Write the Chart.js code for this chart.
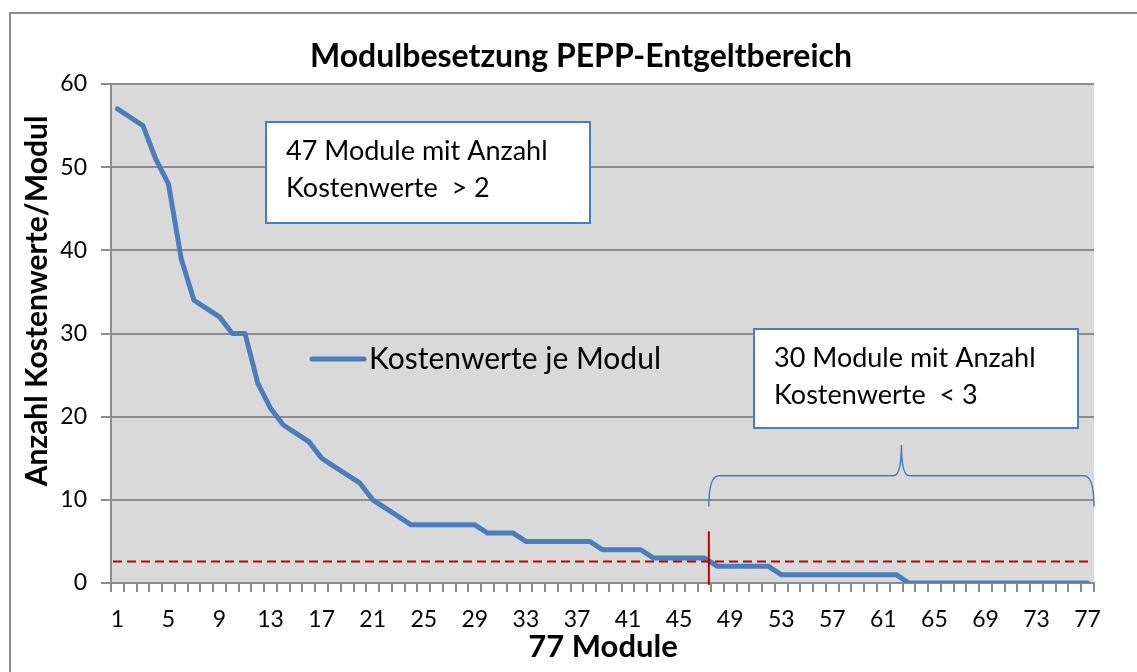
<!DOCTYPE html>
<html lang="de">
<head>
<meta charset="utf-8">
<title>Modulbesetzung PEPP-Entgeltbereich</title>
<script src="https://cdn.jsdelivr.net/npm/chart.js@4"></script>
<style>
  html, body { margin: 0; padding: 0; background: #fff; }
  #wrap { width: 1137px; height: 672px; }
</style>
</head>
<body>
<div id="wrap"><canvas id="modulChart" width="1137" height="672"></canvas></div>
<script>
// Anzahl Kostenwerte je Modul (77 Module, absteigend sortiert)
const module = Array.from({ length: 77 }, (_, i) => String(i + 1));
const kostenwerte = [
    57, 56, 55, 51, 48, 39, 34, 33, 32, 30,
    30, 24, 21, 19, 18, 17, 15, 14, 13, 12,
    10, 9, 8, 7, 7, 7, 7, 7, 7, 6,
    6, 6, 5, 5, 5, 5, 5, 5, 4, 4,
    4, 4, 3, 3, 3, 3, 3, 2, 2, 2,
    2, 2, 1, 1, 1, 1, 1, 1, 1, 1,
    1, 1, 0, 0, 0, 0, 0, 0, 0, 0,
    0, 0, 0, 0, 0, 0, 0
];
const yTicks = [0, 10, 20, 30, 40, 50, 60];

// Hilfslinien / Hinweise
const grenzwert = 2.6;          // rote gestrichelte Linie
const trennIndex = 46.33;       // rote senkrechte Linie (zwischen Modul 47 und 48)
const trennHoehe = 6.2;
const klammer = { unten: 9.2, mitte: 12.9, spitze: 16.6 };
const hinweise = [
    { zeilen: ['47 Module mit Anzahl', 'Kostenwerte  > 2'], x: 266, y: 122, w: 324, h: 101 },
    { zeilen: ['30 Module mit Anzahl', 'Kostenwerte  < 3'], x: 754, y: 329, w: 324, h: 99 }
];

const FONT = 'Lato, "Open Sans", sans-serif';
const BLAU = '#4a7ebb';
const GRAU = '#8c8c8c';

const zeichnen = {
    id: 'zeichnen',
    beforeDraw(chart) {
        const { ctx, chartArea: a } = chart;
        ctx.save();
        ctx.fillStyle = '#d9d9d9';
        ctx.fillRect(a.left, a.top, a.right - a.left, a.bottom - a.top);
        ctx.restore();
    },
    afterDatasetsDraw(chart) {
        const { ctx, chartArea: a } = chart;
        const x = chart.scales.x, y = chart.scales.y;
        ctx.save();

        // rote gestrichelte Grenzlinie
        ctx.strokeStyle = '#c00000';
        ctx.lineWidth = 2;
        ctx.setLineDash([9, 5]);
        const yg = y.getPixelForValue(grenzwert);
        ctx.beginPath();
        ctx.moveTo(a.left + 2, yg);
        ctx.lineTo(a.right - 3, yg);
        ctx.stroke();

        // rote Trennlinie
        ctx.setLineDash([]);
        const xt = x.getPixelForValue(trennIndex);
        ctx.beginPath();
        ctx.moveTo(xt, y.getPixelForValue(trennHoehe));
        ctx.lineTo(xt, a.bottom + 2);
        ctx.stroke();

        // geschweifte Klammer
        const x1 = xt, x2 = a.right, xm = (x1 + x2) / 2;
        const yb = y.getPixelForValue(klammer.unten);
        const yh = y.getPixelForValue(klammer.mitte);
        const ys = y.getPixelForValue(klammer.spitze);
        ctx.strokeStyle = BLAU;
        ctx.lineWidth = 1.5;
        ctx.beginPath();
        ctx.moveTo(x1, yb);
        ctx.quadraticCurveTo(x1, yh, x1 + 10, yh);
        ctx.lineTo(xm - 8, yh);
        ctx.quadraticCurveTo(xm, yh, xm, ys);
        ctx.quadraticCurveTo(xm, yh, xm + 8, yh);
        ctx.lineTo(x2 - 10, yh);
        ctx.quadraticCurveTo(x2, yh, x2, yb);
        ctx.stroke();

        // Textfelder
        hinweise.forEach(h => {
            ctx.fillStyle = '#fff';
            ctx.fillRect(h.x, h.y, h.w, h.h);
            ctx.strokeStyle = BLAU;
            ctx.lineWidth = 2;
            ctx.strokeRect(h.x, h.y, h.w, h.h);
            ctx.fillStyle = '#000';
            ctx.font = '27px ' + FONT;
            ctx.textBaseline = 'alphabetic';
            h.zeilen.forEach((z, i) => ctx.fillText(z, h.x + 20, h.y + 38 + i * 37));
        });

        // Legende
        const ds = chart.data.datasets[0];
        ctx.strokeStyle = ds.borderColor;
        ctx.lineWidth = 5;
        ctx.lineCap = 'round';
        ctx.beginPath();
        ctx.moveTo(312, 359);
        ctx.lineTo(364, 359);
        ctx.stroke();
        ctx.fillStyle = '#000';
        ctx.font = '30px ' + FONT;
        ctx.fillText(ds.label, 369, 369);
        ctx.restore();
    },
    afterDraw(chart) {
        const { ctx } = chart;
        ctx.save();
        ctx.fillStyle = '#000';
        ctx.textAlign = 'center';
        ctx.textBaseline = 'alphabetic';

        ctx.font = 'bold 32px ' + FONT;
        ctx.fillText('Modulbesetzung PEPP-Entgeltbereich', 581, 67);

        ctx.font = 'bold 31px ' + FONT;
        ctx.fillText('77 Module', 603, 657);

        ctx.font = 'bold 30px ' + FONT;
        ctx.translate(47, 301);
        ctx.rotate(-Math.PI / 2);
        ctx.fillText('Anzahl Kostenwerte/Modul', 0, 0);
        ctx.setTransform(1, 0, 0, 1, 0, 0);

        // Rahmen
        ctx.strokeStyle = GRAU;
        ctx.lineWidth = 2;
        ctx.beginPath();
        ctx.moveTo(10, 672);
        ctx.lineTo(10, 13);
        ctx.lineTo(1137, 13);
        ctx.stroke();
        ctx.restore();
    }
};

const ctx = document.getElementById('modulChart').getContext('2d');
new Chart(ctx, {
    type: 'line',
    data: {
        labels: module,
        datasets: [{
            label: 'Kostenwerte je Modul',
            data: kostenwerte,
            borderColor: BLAU,
            backgroundColor: BLAU,
            borderWidth: 5,
            borderCapStyle: 'round',
            borderJoinStyle: 'round',
            pointRadius: 0,
            tension: 0,
            fill: false
        }]
    },
    options: {
        responsive: false,
        animation: false,
        layout: { padding: { left: 0, top: 84, right: 43, bottom: 0 } },
        plugins: {
            legend: { display: false },
            title: { display: false },
            tooltip: { enabled: false }
        },
        scales: {
            x: {
                type: 'category',
                offset: true,
                afterFit: s => { s.height = 89; },
                grid: {
                    offset: true,
                    drawOnChartArea: false,
                    tickLength: 9,
                    color: GRAU,
                    lineWidth: 2
                },
                border: { color: GRAU, width: 2 },
                ticks: {
                    autoSkip: false,
                    maxRotation: 0,
                    padding: 14,
                    color: '#000',
                    font: { family: FONT, size: 23 },
                    callback: function (val, i) {
                        return i % 4 === 0 ? this.getLabelForValue(val) : '';
                    }
                }
            },
            y: {
                min: yTicks[0],
                max: yTicks[yTicks.length - 1],
                afterFit: s => { s.width = 111; },
                afterBuildTicks: s => { s.ticks = yTicks.map(v => ({ value: v })); },
                grid: { color: GRAU, lineWidth: 2, tickLength: 10 },
                border: { color: GRAU, width: 2 },
                ticks: {
                    padding: 14,
                    color: '#000',
                    font: { family: FONT, size: 23 }
                }
            }
        }
    },
    plugins: [zeichnen]
});
</script>
</body>
</html>
